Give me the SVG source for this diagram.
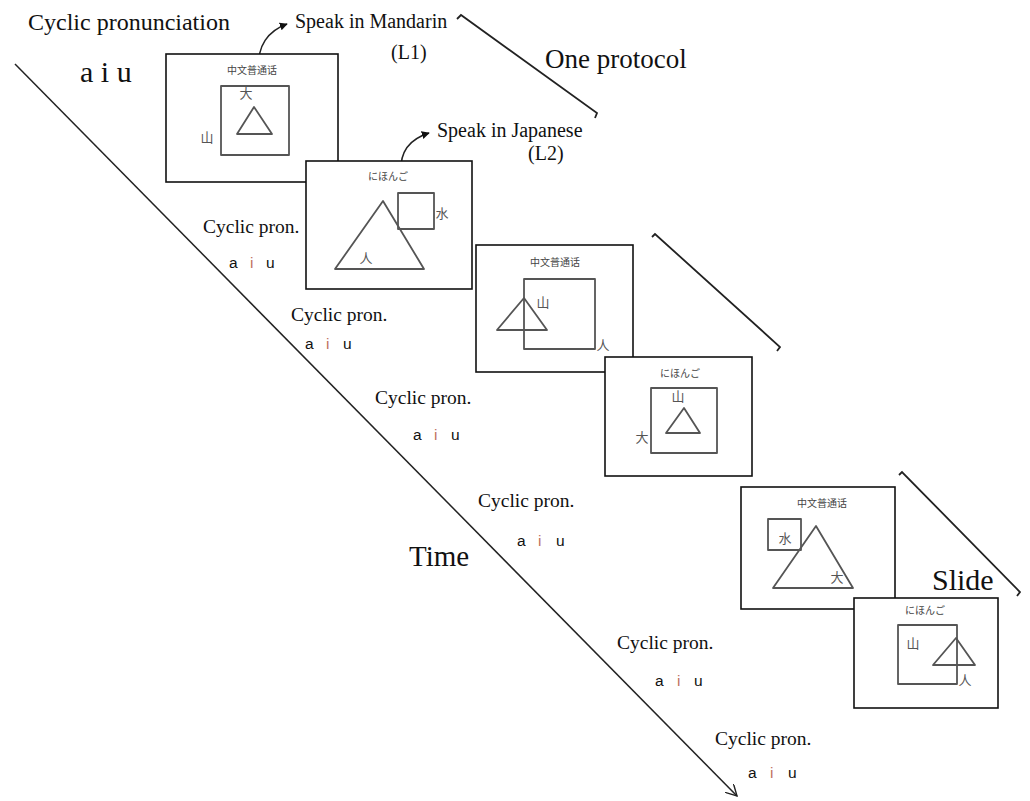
<svg xmlns="http://www.w3.org/2000/svg" width="1030" height="801" viewBox="0 0 1030 801">
<style>
.slide{fill:#fff;stroke:#111;stroke-width:1.6}
.shape{fill:none;stroke:#555;stroke-width:1.8;stroke-linejoin:round}
.ttl{font-family:"Noto Sans CJK SC","Noto Sans CJK JP",sans-serif;font-size:10px;fill:#444;text-anchor:middle}
.ttlj{font-family:"Noto Sans CJK JP","Noto Sans CJK SC",sans-serif;font-size:10px;fill:#444;text-anchor:middle}
.lbl{font-family:"Noto Sans CJK SC",sans-serif;font-size:13px;fill:#555;text-anchor:middle}
.serif{font-family:"Liberation Serif","Times New Roman",serif;fill:#111}
.cp{font-family:"Liberation Serif","Times New Roman",serif;font-size:19.5px;fill:#111}
.aiu{font-family:"Liberation Sans",Arial,sans-serif;font-size:15.5px;fill:#111}
.red{fill:#c07060}
.brk{fill:none;stroke:#222;stroke-width:1.8;stroke-linejoin:miter}
.conn{fill:none;stroke:#222;stroke-width:1.5}
</style>
<defs>
<marker id="ah" viewBox="0 0 10 10" refX="9" refY="5" markerWidth="8" markerHeight="8" orient="auto" markerUnits="userSpaceOnUse">
<path d="M0,0 L10,5 L0,10 z" fill="#111"/>
</marker>
<marker id="open" viewBox="0 0 12 12" refX="11" refY="6" markerWidth="12" markerHeight="12" orient="auto" markerUnits="userSpaceOnUse">
<path d="M0,0 L11,6 L0,12" fill="none" stroke="#222" stroke-width="1.4"/>
</marker>
</defs>
<rect width="1030" height="801" fill="#fff"/>

<g id="connectors">
<line class="conn" x1="15" y1="64" x2="737" y2="796" marker-end="url(#open)"/>
<path class="conn" d="M259,68 C257,46 268,31 287,24" marker-end="url(#ah)"/>
<path class="conn" d="M401,171 C400,151 410,139 429,133" marker-end="url(#ah)"/>
<polyline class="brk" points="457,19 461,15 597,113 595,118"/>
<polyline class="brk" points="652,237 655,234 780,347 777,351"/>
<polyline class="brk" points="899,475 902,472 1020,592 1017,596"/>
</g>

<g id="texts">
<text class="serif" x="28" y="30" font-size="24">Cyclic pronunciation</text>
<text class="serif" x="80" y="82" font-size="30">a i u</text>
<text class="serif" x="295" y="28" font-size="20">Speak in Mandarin</text>
<text class="serif" x="391" y="59" font-size="20">(L1)</text>
<text class="serif" x="545" y="68" font-size="27">One protocol</text>
<text class="serif" x="437" y="137" font-size="20">Speak in Japanese</text>
<text class="serif" x="528" y="160" font-size="20">(L2)</text>
<text class="serif" x="409" y="566" font-size="29">Time</text>
<text class="serif" x="932" y="590" font-size="30">Slide</text>
</g>

<g id="cyclic">
<text class="cp" x="203" y="233">Cyclic pron.</text>
<text class="aiu" y="268"><tspan x="229">a</tspan><tspan x="250" class="red">i</tspan><tspan x="266">u</tspan></text>
<text class="cp" x="291" y="321">Cyclic pron.</text>
<text class="aiu" y="349"><tspan x="305">a</tspan><tspan x="326" class="red">i</tspan><tspan x="343">u</tspan></text>
<text class="cp" x="375" y="404">Cyclic pron.</text>
<text class="aiu" y="440"><tspan x="413">a</tspan><tspan x="434" class="red">i</tspan><tspan x="451">u</tspan></text>
<text class="cp" x="478" y="507">Cyclic pron.</text>
<text class="aiu" y="546"><tspan x="517">a</tspan><tspan x="538" class="red">i</tspan><tspan x="556">u</tspan></text>
<text class="cp" x="617" y="649">Cyclic pron.</text>
<text class="aiu" y="686"><tspan x="655">a</tspan><tspan x="677" class="red">i</tspan><tspan x="694">u</tspan></text>
<text class="cp" x="715" y="745">Cyclic pron.</text>
<text class="aiu" y="778"><tspan x="748">a</tspan><tspan x="770" class="red">i</tspan><tspan x="788">u</tspan></text>
</g>

<g id="slide1">
<rect class="slide" x="166" y="54" width="172" height="128"/>
<text class="ttl" x="252" y="74">中文普通话</text>
<rect class="shape" x="221" y="86" width="68" height="69"/>
<polygon class="shape" points="254,107 237,134 272,134"/>
<text class="lbl" x="246" y="98">大</text>
<text class="lbl" x="207" y="142">山</text>
</g>

<g id="slide2">
<rect class="slide" x="306" y="161" width="166" height="128"/>
<text class="ttlj" x="388" y="180">にほんご</text>
<polygon class="shape" points="383,201 335,269 424,269"/>
<rect class="shape" x="398" y="193" width="36" height="36"/>
<text class="lbl" x="442" y="218">水</text>
<text class="lbl" x="366" y="263">人</text>
</g>

<g id="slide3">
<rect class="slide" x="476" y="245" width="157" height="127"/>
<text class="ttl" x="555" y="266">中文普通话</text>
<rect class="shape" x="524" y="279" width="71" height="70"/>
<polygon class="shape" points="524,298 497,330 547,330"/>
<text class="lbl" x="543" y="307">山</text>
<text class="lbl" x="603" y="350">人</text>
</g>

<g id="slide4">
<rect class="slide" x="605" y="357" width="147" height="119"/>
<text class="ttlj" x="680" y="377">にほんご</text>
<rect class="shape" x="651" y="388" width="66" height="65"/>
<polygon class="shape" points="684,408 666,433 700,433"/>
<text class="lbl" x="678" y="401">山</text>
<text class="lbl" x="642" y="442">大</text>
</g>

<g id="slide5">
<rect class="slide" x="741" y="487" width="154" height="122"/>
<text class="ttl" x="822" y="507">中文普通话</text>
<rect class="shape" x="768" y="519" width="33" height="31"/>
<polygon class="shape" points="816,526 773,588 853,588"/>
<text class="lbl" x="785" y="543">水</text>
<text class="lbl" x="837" y="582">大</text>
</g>

<g id="slide6">
<rect class="slide" x="854" y="598" width="144" height="110"/>
<text class="ttlj" x="925" y="614">にほんご</text>
<rect class="shape" x="898" y="625" width="59" height="59"/>
<polygon class="shape" points="956,638 933,665 975,665"/>
<text class="lbl" x="913" y="648">山</text>
<text class="lbl" x="965" y="685">人</text>
</g>
</svg>
